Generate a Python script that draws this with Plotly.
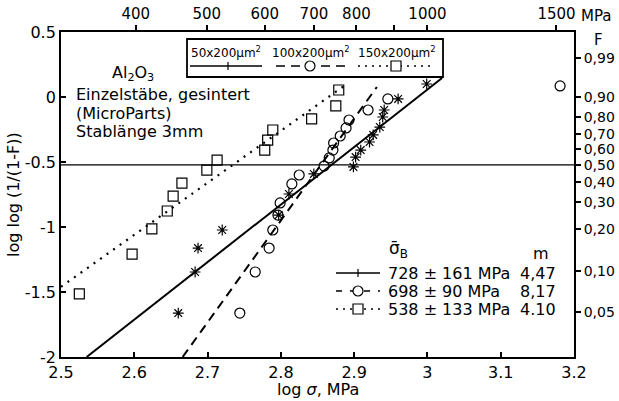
import numpy as np
import plotly.graph_objects as go

# ---------------- data ----------------
# 50x200 µm² (stars, solid fit)
x_50 = [2.660, 2.683, 2.687, 2.720, 2.797, 2.811, 2.845, 2.899, 2.902, 2.909,
        2.921, 2.926, 2.935, 2.939, 2.941, 2.960, 2.999]
y_50 = [-1.662, -1.346, -1.162, -1.023, -0.908, -0.746, -0.592, -0.538, -0.462, -0.408,
        -0.346, -0.292, -0.231, -0.154, -0.100, -0.015, 0.100]
# 100x200 µm² (circles, dashed fit)
x_100 = [2.744, 2.765, 2.784, 2.789, 2.796, 2.799, 2.815, 2.825, 2.859, 2.866,
         2.871, 2.872, 2.881, 2.889, 2.893, 2.919, 2.946, 3.181]
y_100 = [-1.662, -1.346, -1.162, -1.023, -0.908, -0.815, -0.669, -0.600, -0.531, -0.469,
         -0.408, -0.354, -0.300, -0.238, -0.177, -0.100, -0.015, 0.085]
# 150x200 µm² (squares, dotted fit)
x_150 = [2.525, 2.597, 2.624, 2.645, 2.653, 2.665, 2.699, 2.713, 2.778, 2.782,
         2.789, 2.842, 2.875, 2.879]
y_150 = [-1.515, -1.208, -1.015, -0.877, -0.762, -0.662, -0.562, -0.485, -0.408, -0.331,
         -0.254, -0.169, -0.069, 0.054]

# fitted Weibull lines (end points)
fit_50_x = [2.535, 3.02]
fit_50_y = [-2.0, 0.146]
fit_100_x = [2.666, 2.931]
fit_100_y = [-2.0, 0.077]
fit_150_x = [2.5, 2.885]
fit_150_y = [-1.46, 0.08]

# median line F = 0.5
median_F = 0.5
median_x = [2.5, 3.2]

# axes
x_range = [2.5, 3.2]
y_range = [-2.0, 0.5]
x_ticks = [2.5, 2.6, 2.7, 2.8, 2.9, 3.0, 3.1, 3.2]
x_ticktext = ["2.5", "2.6", "2.7", "2.8", "2.9", "3", "3.1", "3.2"]
y_ticks = [0.5, 0, -0.5, -1, -1.5, -2]
y_ticktext = ["0.5", "0", "-0.5", "-1", "-1.5", "-2"]
mpa_ticks = [400, 500, 600, 700, 800, 900, 1000, 1500]
mpa_ticktext = ["400", "500", "600", "700", "800", " ", "1000", "1500"]
F_ticks = [0.99, 0.90, 0.80, 0.70, 0.60, 0.50, 0.40, 0.30, 0.20, 0.10, 0.05]
F_ticktext = ["0,99", "0,90", "0,80", "0,70", "0,60", "0,50", "0,40", "0,30", "0,20", "0,10", "0,05"]

series_names = ["50x200µm<sup>2</sup>", "100x200µm<sup>2</sup>", "150x200µm<sup>2</sup>"]
sigma_text = ["728 ± 161 MPa", "698 ± 90 MPa", "538 ± 133 MPa"]
m_text = ["4,47", "8,17", "4.10"]

# ---------------- geometry helpers ----------------
W, H = 619, 401
L, R, T, B = 61, 574, 32, 357
FONT = "DejaVu Sans"


def dx(px):
    return x_range[0] + (px - L) / (R - L) * (x_range[1] - x_range[0])


def dy(py):
    return y_range[1] - (py - T) / (B - T) * (y_range[1] - y_range[0])


def px_(px):
    return (px - L) / (R - L)


def py_(py):
    return 1 - (py - T) / (B - T)


def FtoY(F):
    return float(np.log10(np.log10(1.0 / (1.0 - F))))


fig = go.Figure()

# median line
fig.add_trace(go.Scatter(x=median_x, y=[FtoY(median_F)] * 2, mode="lines",
                         line=dict(color="black", width=1.3), hoverinfo="skip"))
# fit lines
fig.add_trace(go.Scatter(x=fit_50_x, y=fit_50_y, mode="lines",
                         line=dict(color="black", width=2)))
fig.add_trace(go.Scatter(x=fit_100_x, y=fit_100_y, mode="lines",
                         line=dict(color="black", width=2, dash="9px,6px")))
fig.add_trace(go.Scatter(x=fit_150_x, y=fit_150_y, mode="lines",
                         line=dict(color="black", width=2.2, dash="2px,6px")))
# points
fig.add_trace(go.Scatter(x=x_50, y=y_50, mode="markers",
                         marker=dict(symbol="asterisk-open", size=9, color="black",
                                     line=dict(color="black", width=1.2))))
fig.add_trace(go.Scatter(x=x_100, y=y_100, mode="markers",
                         marker=dict(symbol="circle-open", size=10, color="black",
                                     line=dict(color="black", width=1.2))))
fig.add_trace(go.Scatter(x=x_150, y=y_150, mode="markers",
                         marker=dict(symbol="square-open", size=10, color="black",
                                     line=dict(color="black", width=1.2))))
# invisible trace for secondary axes
fig.add_trace(go.Scatter(x=[x_range[0]], y=[y_range[0]], xaxis="x2", yaxis="y2",
                         mode="markers", marker=dict(opacity=0), hoverinfo="skip"))

shapes = []
annotations = []

# legend box at top
bx0, bx1, by0, by1 = 187, 443, 39, 77
shapes.append(dict(type="rect", xref="x", yref="y", x0=dx(bx0), x1=dx(bx1), y0=dy(by0), y1=dy(by1),
                   line=dict(color="black", width=1.8), fillcolor="white", layer="above"))
row_y = 66
text_y = 52
box_items = [
    (190, 262, 228, "solid", "plus"),
    (276, 346, 310, "9px,6px", "circle"),
    (358, 434, 396, "2px,5px", "square"),
]
centers = [226, 311, 397]


def sample(x0, x1, xm, yy, dash, mk):
    shapes.append(dict(type="line", xref="x", yref="y", x0=dx(x0), x1=dx(x1), y0=dy(yy), y1=dy(yy),
                       line=dict(color="black", width=1.5, dash=dash), layer="above"))
    if mk == "plus":
        shapes.append(dict(type="line", xref="x", yref="y", x0=dx(xm), x1=dx(xm), y0=dy(yy - 4), y1=dy(yy + 4),
                           line=dict(color="black", width=1.2), layer="above"))
    elif mk == "circle":
        shapes.append(dict(type="circle", xref="x", yref="y", x0=dx(xm - 5), x1=dx(xm + 5),
                           y0=dy(yy - 5), y1=dy(yy + 5), fillcolor="white",
                           line=dict(color="black", width=1.2), layer="above"))
    elif mk == "square":
        shapes.append(dict(type="rect", xref="x", yref="y", x0=dx(xm - 5), x1=dx(xm + 5),
                           y0=dy(yy - 5), y1=dy(yy + 5), fillcolor="white",
                           line=dict(color="black", width=1.2), layer="above"))


for (x0, x1, xm, dash, mk), name, c in zip(box_items, series_names, centers):
    sample(x0, x1, xm, row_y, dash, mk)
    annotations.append(dict(text=name, x=px_(c), y=py_(text_y), xref="paper", yref="paper",
                            showarrow=False, font=dict(family=FONT, size=12, color="black"),
                            xanchor="center", yanchor="middle"))

# lower-right legend
rows_y = [273, 291, 309]
lower_items = [("solid", "plus"), ("6px,8px", "circle"), ("2px,5px", "square")]
for yy, (dash, mk), st, mt in zip(rows_y, lower_items, sigma_text, m_text):
    sample(336, 380, 358, yy, dash, mk)
    annotations.append(dict(text=st, x=px_(386), y=py_(yy), xref="paper", yref="paper",
                            showarrow=False, font=dict(family=FONT, size=16, color="black"),
                            xanchor="left", yanchor="middle"))
    annotations.append(dict(text=mt, x=px_(558), y=py_(yy), xref="paper", yref="paper",
                            showarrow=False, font=dict(family=FONT, size=16, color="black"),
                            xanchor="right", yanchor="middle"))
annotations.append(dict(text="σ̄<sub>B</sub>", x=px_(398), y=py_(249), xref="paper", yref="paper",
                        showarrow=False, font=dict(family=FONT, size=17, color="black"),
                        xanchor="center", yanchor="middle"))
annotations.append(dict(text="m", x=px_(541), y=py_(254), xref="paper", yref="paper",
                        showarrow=False, font=dict(family=FONT, size=16, color="black"),
                        xanchor="center", yanchor="middle"))

# material text
annotations.append(dict(text="Al<sub>2</sub>O<sub>3</sub>", x=px_(110), y=py_(73), xref="paper", yref="paper",
                        showarrow=False, font=dict(family=FONT, size=16, color="black"),
                        xanchor="left", yanchor="middle"))
for t, yy in zip(["Einzelstäbe, gesintert", "(MicroParts)", "Stablänge 3mm"], [94, 113, 131]):
    annotations.append(dict(text=t, x=px_(74), y=py_(yy), xref="paper", yref="paper",
                            showarrow=False, font=dict(family=FONT, size=16, color="black"),
                            xanchor="left", yanchor="middle"))

# axis titles and extra labels
annotations.append(dict(text="log <i>σ</i>, MPa", x=px_(318), y=py_(389), xref="paper", yref="paper",
                        showarrow=False, font=dict(family=FONT, size=16, color="black"),
                        xanchor="center", yanchor="middle"))
annotations.append(dict(text="log log (1/(1-F))", x=px_(14), y=py_(195), xref="paper", yref="paper",
                        showarrow=False, textangle=-90, font=dict(family=FONT, size=16, color="black"),
                        xanchor="center", yanchor="middle"))
annotations.append(dict(text="MPa", x=px_(579), y=py_(16), xref="paper", yref="paper",
                        showarrow=False, font=dict(family=FONT, size=15, color="black"),
                        xanchor="left", yanchor="middle"))
annotations.append(dict(text="F", x=px_(598), y=py_(40), xref="paper", yref="paper",
                        showarrow=False, font=dict(family=FONT, size=15, color="black"),
                        xanchor="center", yanchor="middle"))

axis_common = dict(showgrid=False, zeroline=False, showline=True, linecolor="black", linewidth=1.8,
                   ticklen=5, tickcolor="black", tickwidth=1.5, automargin=False)

fig.update_layout(
    width=W, height=H,
    margin=dict(l=L, r=W - R, t=T, b=H - B, pad=0, autoexpand=False),
    paper_bgcolor="white", plot_bgcolor="white",
    showlegend=False,
    shapes=shapes,
    annotations=annotations,
    xaxis=dict(range=x_range, tickvals=x_ticks, ticktext=x_ticktext, ticks="inside",
               tickfont=dict(family=FONT, size=16, color="black"), **axis_common),
    yaxis=dict(range=y_range, tickvals=y_ticks, ticktext=y_ticktext, ticks="inside",
               tickfont=dict(family=FONT, size=16, color="black"), **axis_common),
    xaxis2=dict(range=x_range, overlaying="x", side="top", anchor="y2",
                tickvals=[float(np.log10(v)) for v in mpa_ticks], ticktext=mpa_ticktext, ticks="outside",
                tickfont=dict(family=FONT, size=15, color="black"), **axis_common),
    yaxis2=dict(range=y_range, overlaying="y", side="right", anchor="x2",
                tickvals=[FtoY(f) for f in F_ticks], ticktext=F_ticktext, ticks="outside",
                tickfont=dict(family=FONT, size=14, color="black"), **axis_common),
)

fig.write_html("out.html", config={"displayModeBar": False},
               post_script="document.body.style.margin='0';document.body.style.padding='0';")
